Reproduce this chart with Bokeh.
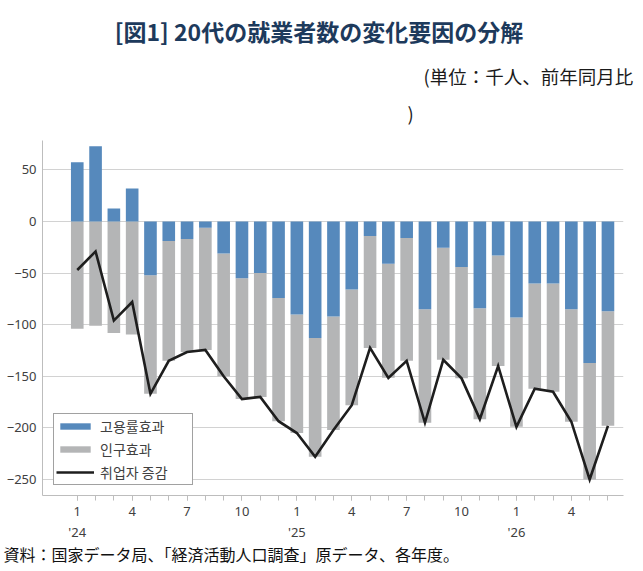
import numpy as np
from bokeh.plotting import figure
from bokeh.models import (Range1d, FixedTicker, LinearAxis, Legend,
                          LegendItem, ColumnDataSource)
from bokeh.core.properties import value
from bokeh.embed import file_html
from bokeh.resources import INLINE

# ---------------- data ----------------
month_index = list(range(30))  # Jan 2024 .. Jun 2026
employment_rate_effect = [57.5, 73, 12.5, 32, -52, -19, -17, -6, -31, -55, -50, -74,
                          -90, -113, -92, -66, -14, -41, -16, -85, -25.5, -44, -84, -33,
                          -93, -60, -60, -85, -137, -87]
population_effect = [-104, -101, -108, -109.5, -115, -116, -109.5, -118.5, -119, -117, -120, -119.5,
                     -115, -115, -110, -112, -108.5, -110.5, -119, -110, -108.5, -108, -107.5, -107,
                     -106, -102, -105, -109, -113, -111]
employed_change = [-47, -29, -96, -78, -167, -135, -126.5, -124.5, -150, -172, -170, -193.5,
                   -205, -228, -202, -178, -122.5, -151.5, -135, -195, -134, -152, -191.5, -140,
                   -199, -162, -165, -194, -250, -198]
month_tick_pos = [0, 3, 6, 9, 12, 15, 18, 21, 24, 27]
month_tick_labels = ["1", "4", "7", "10", "1", "4", "7", "10", "1", "4"]
year_tick_pos = [0, 12, 24]
year_tick_labels = ["'24", "'25", "'26"]
y_ticks = [-250, -200, -150, -100, -50, 0, 50]
legend_labels = ["고용률효과", "인구효과", "취업자 증감"]
title_text = "[図1] 20代の就業者数の変化要因の分解"
unit_text_1 = "(単位：千人、前年同月比"
unit_text_2 = ")"
source_text = "資料：国家データ局、「経済活動人口調査」原データ、各年度。"

BLUE = "#5689bc"
GREY = "#b4b5b6"
LINE = "#1e1e1e"
AXIS = "#bdbdbd"
TXT = "#404040"

# ---------------- layout (pixels) ----------------
W, H = 635, 568
FRAME_L, FRAME_R, FRAME_T, FRAME_B = 42, 623, 140, 495
X_START, X_END = -1.9, 29.85
Y_START, Y_END = -265.5, 78.5
px_x = (FRAME_R - FRAME_L) / (X_END - X_START)
px_y = (FRAME_B - FRAME_T) / (Y_END - Y_START)


def sx(px):  # page pixel -> data x (for text placement outside the frame)
    return X_START + (px - FRAME_L) / px_x


def sy(py):
    return Y_END - (py - FRAME_T) / px_y


blue = np.array(employment_rate_effect, dtype=float)
grey = np.array(population_effect, dtype=float)
grey_bottom = np.where(blue < 0, blue, 0.0)
grey_top = grey_bottom + grey

src = ColumnDataSource(dict(x=month_index, blue=blue, zero=np.zeros(len(blue)),
                            gb=grey_bottom, gt=grey_top, total=employed_change))

p = figure(width=W, height=H, output_backend="svg", toolbar_location=None,
           x_range=Range1d(X_START, X_END), y_range=Range1d(Y_START, Y_END),
           min_border_left=FRAME_L, min_border_right=W - FRAME_R,
           min_border_top=FRAME_T, min_border_bottom=H - FRAME_B)
p.outline_line_color = None

xa = p.xaxis[0]
xa.ticker = FixedTicker(ticks=month_tick_pos, minor_ticks=month_index)
xa.major_label_overrides = {t: l for t, l in zip(month_tick_pos, month_tick_labels)}
xa.axis_line_color = AXIS
xa.major_tick_line_color = AXIS
xa.minor_tick_line_color = AXIS
xa.major_tick_in = 0
xa.major_tick_out = 5
xa.minor_tick_in = 0
xa.minor_tick_out = 5
xa.major_label_standoff = 6
xa.major_label_text_font = "Noto Sans"
xa.major_label_text_font_size = "13px"
xa.major_label_text_color = TXT

ya = LinearAxis(ticker=FixedTicker(ticks=year_tick_pos),
                major_label_overrides={t: l for t, l in zip(year_tick_pos, year_tick_labels)},
                axis_line_color=None, major_tick_line_color=None, minor_tick_line_color=None,
                major_tick_in=0, major_tick_out=0, minor_tick_in=0, minor_tick_out=0,
                major_label_standoff=4, major_label_text_font="Noto Sans",
                major_label_text_font_size="13px", major_label_text_color=TXT)
p.add_layout(ya, "below")

yax = p.yaxis[0]
yax.ticker = FixedTicker(ticks=y_ticks)
yax.axis_line_color = AXIS
yax.major_tick_line_color = None
yax.minor_tick_line_color = None
yax.major_tick_in = 0
yax.major_tick_out = 0
yax.minor_tick_in = 0
yax.minor_tick_out = 0
yax.major_label_standoff = 6
yax.major_label_text_font = "Noto Sans"
yax.major_label_text_font_size = "13px"
yax.major_label_text_color = TXT

p.xgrid.visible = False
p.ygrid.ticker = FixedTicker(ticks=y_ticks)
p.ygrid.grid_line_color = "#d2d2d2"
p.ygrid.grid_line_width = 1

rg = p.vbar(x="x", width=0.69, bottom="gb", top="gt", source=src,
            fill_color=GREY, line_color=None)
rb = p.vbar(x="x", width=0.69, bottom="zero", top="blue", source=src,
            fill_color=BLUE, line_color=None)
rl = p.line(x="x", y="total", source=src, line_color=LINE, line_width=2.6,
            line_join="miter")

legend = Legend(items=[LegendItem(label=legend_labels[0], renderers=[rb]),
                       LegendItem(label=legend_labels[1], renderers=[rg]),
                       LegendItem(label=legend_labels[2], renderers=[rl])],
                location=(11, 10), margin=0, padding=2, spacing=3,
                glyph_width=38, glyph_height=8, label_height=12, label_standoff=6,
                label_width=90,
                label_text_font="Noto Sans CJK KR", label_text_font_size="14px",
                label_text_color=TXT, border_line_color="#444444", border_line_width=1,
                background_fill_color="white", background_fill_alpha=1)
p.add_layout(legend)

# ---------------- header / footer texts (drawn above the frame) ----------------
p.text(x=[sx(318.5)], y=[sy(30)], text=[title_text], level="overlay",
       text_align="center", text_baseline="middle",
       text_font=value("Noto Sans CJK JP"), text_font_style="bold",
       text_font_size="23px", text_color="#1d3a5c")
p.text(x=[sx(423), sx(407)], y=[sy(75.5), sy(112.5)], text=[unit_text_1, unit_text_2],
       level="overlay", text_align="left", text_baseline="middle",
       text_font=value("Noto Sans CJK JP"), text_font_size="18.5px", text_color="#1a1a1a")
p.text(x=[sx(3)], y=[sy(553)], text=[source_text], level="overlay",
       text_align="left", text_baseline="middle",
       text_font=value("Noto Sans CJK JP"), text_font_size="16px", text_color="#111111")

open("out.html", "w").write(file_html(p, INLINE))
